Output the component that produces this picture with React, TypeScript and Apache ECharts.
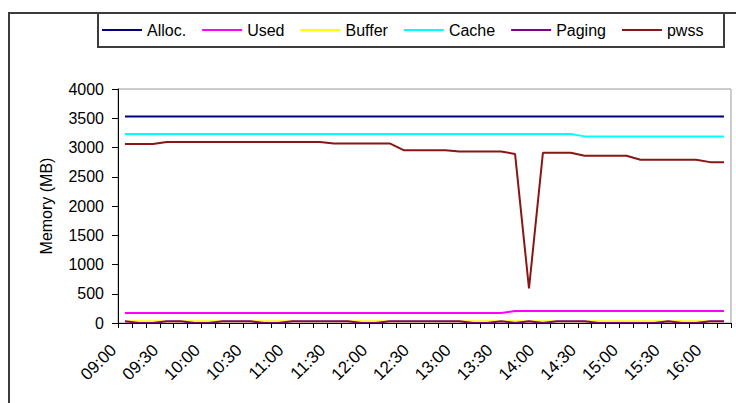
import { useEffect, useRef } from "react";
import * as echarts from "echarts";

const times = [
  "09:00", "09:10", "09:20", "09:30", "09:40", "09:50",
  "10:00", "10:10", "10:20", "10:30", "10:40", "10:50",
  "11:00", "11:10", "11:20", "11:30", "11:40", "11:50",
  "12:00", "12:10", "12:20", "12:30", "12:40", "12:50",
  "13:00", "13:10", "13:20", "13:30", "13:40", "13:50",
  "14:00", "14:10", "14:20", "14:30", "14:40", "14:50",
  "15:00", "15:10", "15:20", "15:30", "15:40", "15:50",
  "16:00", "16:10",
];

const yTicks = [0, 500, 1000, 1500, 2000, 2500, 3000, 3500, 4000];

const alloc = [
  3530, 3530, 3530, 3530, 3530, 3530, 3530, 3530, 3530, 3530, 3530,
  3530, 3530, 3530, 3530, 3530, 3530, 3530, 3530, 3530, 3530, 3530,
  3530, 3530, 3530, 3530, 3530, 3530, 3530, 3530, 3530, 3530, 3530,
  3530, 3530, 3530, 3530, 3530, 3530, 3530, 3530, 3530, 3530, 3530,
];

const used = [
  170, 170, 170, 170, 170, 170, 170, 170, 170, 170, 170,
  170, 170, 170, 170, 170, 170, 170, 170, 170, 170, 170,
  170, 170, 170, 170, 170, 170, 205, 205, 205, 205, 205,
  205, 205, 205, 205, 205, 205, 205, 205, 205, 205, 205,
];

const buffer = [
  30, 30, 30, 30, 30, 30, 30, 30, 30, 30, 30,
  30, 30, 30, 30, 30, 30, 30, 30, 30, 30, 30,
  30, 30, 30, 30, 30, 30, 30, 30, 30, 30, 30,
  30, 30, 30, 30, 30, 30, 30, 30, 30, 30, 30,
];

const cache = [
  3230, 3230, 3230, 3230, 3230, 3230, 3230, 3230, 3230, 3230, 3230,
  3230, 3230, 3230, 3230, 3230, 3230, 3230, 3230, 3230, 3230, 3230,
  3230, 3230, 3230, 3230, 3230, 3230, 3230, 3230, 3230, 3230, 3230,
  3190, 3190, 3190, 3190, 3190, 3190, 3190, 3190, 3190, 3190, 3190,
];

const paging = [
  30, 0, 0, 30, 30, 0, 0, 30, 30, 30, 0,
  0, 30, 30, 30, 30, 30, 0, 0, 30, 30, 30,
  30, 30, 30, 0, 0, 30, 0, 30, 0, 30, 30,
  30, 0, 0, 0, 0, 0, 30, 0, 0, 30, 30,
];

const pwss = [
  3060, 3060, 3060, 3095, 3095, 3095, 3095, 3095, 3095, 3095, 3095,
  3095, 3095, 3095, 3095, 3070, 3070, 3070, 3070, 3070, 2955, 2955,
  2955, 2955, 2930, 2930, 2930, 2930, 2890, 590, 2910, 2910, 2910,
  2860, 2860, 2860, 2860, 2790, 2790, 2790, 2790, 2790, 2750, 2750,
];

const seriesNames = ["Alloc.", "Used", "Buffer", "Cache", "Paging", "pwss"];
const seriesColors = ["#000080", "#ff00ff", "#ffff00", "#00ffff", "#800080", "#8b1414"];
const seriesData = [alloc, used, buffer, cache, paging, pwss];

const FONT = "'Liberation Sans', Arial, sans-serif";

export default function App() {
  const ref = useRef<HTMLDivElement>(null);
  useEffect(() => {
    const chart = echarts.init(ref.current!, null, { renderer: "svg" });
    chart.setOption({
      animation: false,
      backgroundColor: "#ffffff",
      textStyle: { fontFamily: FONT, color: "#000" },
      graphic: [
        {
          type: "rect",
          silent: true,
          z: 0,
          shape: { x: 9, y: 13, width: 900, height: 600 },
          style: { fill: "none", stroke: "#3c3c3c", lineWidth: 2 },
        },
        {
          type: "rect",
          silent: true,
          z: 1,
          shape: { x: 98, y: 13, width: 626, height: 34 },
          style: { fill: "#ffffff", stroke: "#3c3c3c", lineWidth: 2 },
        },
      ],
      legend: {
        data: seriesNames.map((n) => ({ name: n, icon: "rect" })),
        left: 102,
        top: 21,
        padding: 0,
        itemWidth: 40,
        itemHeight: 2,
        itemGap: 16,
        z: 5,
        textStyle: { fontFamily: FONT, fontSize: 16, color: "#000", lineHeight: 18 },
      },
      grid: {
        left: 118,
        top: 89,
        right: 5,
        bottom: 80,
        show: true,
        backgroundColor: "#ffffff",
        borderColor: "#9a9a9a",
        borderWidth: 1,
      },
      xAxis: {
        type: "category",
        data: times,
        boundaryGap: true,
        z: 10,
        axisLine: { show: true, lineStyle: { color: "#000", width: 1 } },
        axisTick: { show: true, interval: 0, alignWithLabel: false, length: 5, lineStyle: { color: "#000" } },
        axisLabel: {
          interval: 2,
          rotate: 45,
          margin: 13,
          padding: [0, 16, 0, 0],
          fontFamily: FONT,
          fontSize: 17,
          color: "#000",
        },
        splitLine: { show: false },
      },
      yAxis: {
        type: "value",
        min: yTicks[0],
        max: yTicks[yTicks.length - 1],
        interval: yTicks[1] - yTicks[0],
        name: "Memory (MB)",
        nameLocation: "middle",
        nameGap: 64,
        nameTextStyle: { fontFamily: FONT, fontSize: 16, color: "#000" },
        axisLine: { show: true, lineStyle: { color: "#000", width: 1 } },
        axisTick: { show: true, length: 6, lineStyle: { color: "#000" } },
        axisLabel: {
          margin: 14,
          fontFamily: FONT,
          fontSize: 16,
          color: "#000",
          formatter: (v: number) => String(v),
        },
        splitLine: { show: false },
      },
      series: seriesNames.map((name, i) => ({
        name,
        type: "line",
        data: seriesData[i],
        symbol: "none",
        color: seriesColors[i],
        lineStyle: { width: 2, color: seriesColors[i] },
        emphasis: { disabled: true },
        z: 2 + i * 0.01,
      })),
    });
    return () => chart.dispose();
  }, []);
  return (
    <div
      ref={ref}
      style={{ position: "absolute", left: 0, top: 0, width: 736, height: 403, background: "#fff" }}
    />
  );
}
